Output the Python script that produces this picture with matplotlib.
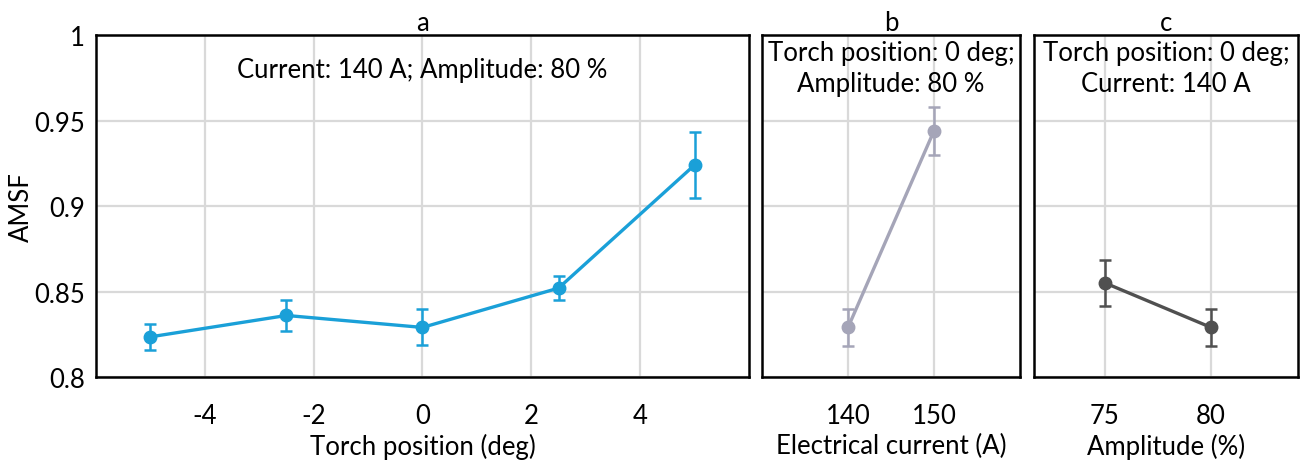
import matplotlib.pyplot as plt

plt.rcParams['font.family'] = ['Lato', 'DejaVu Sans']
plt.rcParams['axes.unicode_minus'] = False

# panel a: torch position
torch_pos = [-5, -2.5, 0, 2.5, 5]
amsf_a = [0.8235, 0.836, 0.829, 0.852, 0.924]
err_a = [0.0075, 0.009, 0.0105, 0.007, 0.0195]

# panel b: electrical current
current = [140, 150]
amsf_b = [0.829, 0.944]
err_b = [0.011, 0.014]

# panel c: amplitude
amplitude = [75, 80]
amsf_c = [0.855, 0.829]
err_c = [0.0135, 0.011]

fs = 18.5
grid_col = '#d9d9d9'

fig = plt.figure(figsize=(13.06, 4.64), dpi=100)
ax_a = fig.add_axes([0.0735, 0.1853, 0.5, 0.737])
ax_b = fig.add_axes([0.5835, 0.1853, 0.1975, 0.737])
ax_c = fig.add_axes([0.7917, 0.1853, 0.2022, 0.737])


def style(ax, title, xlabel):
    ax.set_ylim(0.8, 1.0)
    ax.set_yticks([0.8, 0.85, 0.9, 0.95, 1.0])
    ax.grid(True, color=grid_col, lw=1.6)
    ax.set_axisbelow(True)
    for s in ax.spines.values():
        s.set_color('black')
        s.set_linewidth(1.8)
    ax.tick_params(length=0, labelsize=fs, pad=19)
    ax.tick_params(axis='y', pad=8)
    ax.set_title(title, fontsize=fs, pad=2)
    ax.set_xlabel(xlabel, fontsize=fs, labelpad=3)


# a
ax_a.errorbar(torch_pos, amsf_a, yerr=err_a, color='#1aa0d8', lw=2.4,
              marker='o', ms=9, elinewidth=1.8, capsize=4, capthick=1.8)
ax_a.set_xlim(-6, 6)
ax_a.set_xticks([-4, -2, 0, 2, 4])
style(ax_a, 'a', 'Torch position (deg)')
ax_a.set_yticklabels(['0.8', '0.85', '0.9', '0.95', '1'])
ax_a.set_ylabel('AMSF', fontsize=fs, labelpad=0)
ax_a.text(0.5, 0.9, 'Current: 140 A; Amplitude: 80 %', transform=ax_a.transAxes,
          ha='center', va='center', fontsize=fs)

# b
ax_b.errorbar(current, amsf_b, yerr=err_b, color='#a5a5b8', lw=2.4,
              marker='o', ms=9, elinewidth=1.8, capsize=4, capthick=1.8)
ax_b.set_xlim(130, 160)
ax_b.set_xticks(current)
style(ax_b, 'b', 'Electrical current (A)')
ax_b.set_yticklabels([])
ax_b.text(0.5, 0.985, 'Torch position: 0 deg;\nAmplitude: 80 %', transform=ax_b.transAxes,
          ha='center', va='top', fontsize=fs, linespacing=1.3)

# c
ax_c.errorbar(amplitude, amsf_c, yerr=err_c, color='#505050', lw=2.4,
              marker='o', ms=9, elinewidth=1.8, capsize=4, capthick=1.8)
ax_c.set_xlim(71.65, 84.1)
ax_c.set_xticks(amplitude)
style(ax_c, 'c', 'Amplitude (%)')
ax_c.set_yticklabels([])
ax_c.text(0.5, 0.985, 'Torch position: 0 deg;\nCurrent: 140 A', transform=ax_c.transAxes,
          ha='center', va='top', fontsize=fs, linespacing=1.3)

fig.savefig('out.png', dpi=100)
